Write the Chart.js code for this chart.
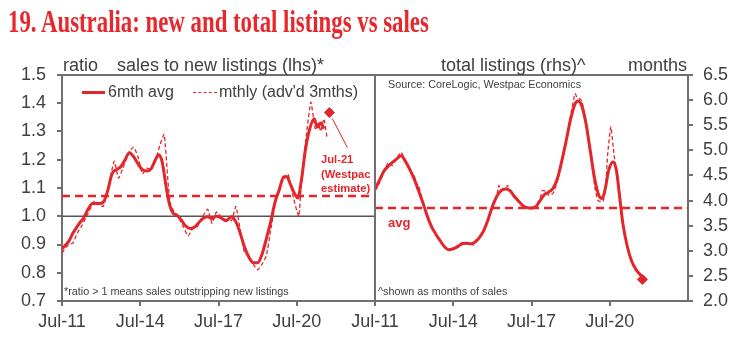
<!DOCTYPE html>
<html>
<head>
<meta charset="utf-8">
<script src="https://cdn.jsdelivr.net/npm/chart.js@4.4.1/dist/chart.umd.min.js"></script>
<style>
  body { margin: 0; background: #fff; }
  #wrap { position: relative; width: 743px; height: 352px; overflow: hidden; font-family: "Liberation Sans", Arial, sans-serif; color: #404040; }
  #chart { position: absolute; left: 0; top: 0; }
  .t { position: absolute; white-space: nowrap; line-height: 1; }
  #title { left: 8px; top: 6px; font-family: "Liberation Serif", serif; font-weight: bold; font-size: 31px; color: #e8262b; transform-origin: 0 0; }
  .hdr { font-size: 18px; top: 56px; }
  .note { font-size: 10.8px; }
  .red { color: #e3262b; font-weight: bold; font-size: 11.2px; }
  .leg { font-size: 16px; top: 84px; }
  .swatch { position: absolute; height: 0; }
</style>
</head>
<body>
<div id="wrap">
  <canvas id="chart" width="743" height="352"></canvas>
  <div class="t" id="title">19. Australia: new and total listings vs sales</div>
  <div class="t hdr" style="left:63px">ratio</div>
  <div class="t hdr" style="left:117px">sales to new listings (lhs)*</div>
  <div class="t hdr" style="left:441px">total listings (rhs)^</div>
  <div class="t hdr" style="left:628px">months</div>

  <div class="swatch" style="left:82px;top:91px;width:23px;border-top:3px solid #e3262b"></div>
  <div class="t leg" style="left:108px">6mth avg</div>
  <div class="swatch" style="left:193px;top:92px;width:24px;border-top:1.5px dashed #e3262b"></div>
  <div class="t leg" style="left:219px">mthly (adv'd 3mths)</div>

  <div class="t note" style="left:388px;top:79px">Source: CoreLogic, Westpac Economics</div>
  <div class="t note" style="left:64px;top:286px">*ratio &gt; 1 means sales outstripping new listings</div>
  <div class="t note" style="left:378px;top:286px">^shown as months of sales</div>
  <div class="t red" style="left:388px;top:216px;font-size:13px">avg</div>
  <div class="t red" style="left:321px;top:152px;line-height:14.5px">Jul-21<br>(Westpac<br>estimate)</div>
</div>
<script>
// x = months since Jul-11; right panel starts at month 144 on the shared axis
const xTickLabels = ["Jul-11", "Jul-14", "Jul-17", "Jul-20", "Jul-11", "Jul-14", "Jul-17", "Jul-20", ""];
const rhsOffset = 144;

// sales to new listings, 6mth avg
const lhsAvgMonths = [0, 3, 5, 8, 10, 12, 14, 17, 19, 21, 23, 25, 27, 29, 31, 33, 35, 37, 39, 41, 43, 44.5, 46, 48, 49.5, 51, 53, 55, 57, 59, 61, 63, 65, 67, 69, 71, 73, 75.5, 78, 80, 82, 84, 86, 88, 90, 92, 94, 96, 98, 100, 102, 103.5, 105, 107, 108.5, 110, 112, 114, 116, 117.5, 119, 120.5];
const lhsAvgRatio = [0.885, 0.91, 0.94, 0.975, 0.995, 1.025, 1.045, 1.045, 1.05, 1.09, 1.15, 1.165, 1.175, 1.2, 1.225, 1.21, 1.185, 1.165, 1.16, 1.168, 1.2, 1.218, 1.195, 1.1, 1.04, 1.012, 1.003, 0.985, 0.965, 0.957, 0.962, 0.978, 0.993, 0.998, 0.992, 1.0, 0.995, 0.984, 0.998, 0.98, 0.94, 0.89, 0.855, 0.835, 0.835, 0.865, 0.92, 0.98, 1.05, 1.095, 1.14, 1.14, 1.115, 1.08, 1.065, 1.12, 1.235, 1.31, 1.345, 1.315, 1.33, 1.31];

// sales to new listings, monthly (advanced 3 months)
const lhsMthMonths = [0, 3, 5, 7, 9, 12, 15, 17, 19, 21, 24, 26, 28, 31, 33, 35, 37, 39, 41, 43, 45, 47, 49, 50, 52, 54, 56, 58, 60, 62, 64, 67, 69, 71, 73, 75, 78, 80, 82, 84, 86, 88, 90, 92, 94, 96, 98, 100, 102, 104, 106, 108, 109, 110, 112, 114.5, 116.5, 118, 119, 120.5, 122];
const lhsMthRatio = [0.87, 0.9, 0.905, 0.94, 0.965, 1.01, 1.055, 1.04, 1.035, 1.09, 1.195, 1.135, 1.17, 1.23, 1.245, 1.21, 1.15, 1.17, 1.165, 1.2, 1.25, 1.29, 1.1, 1.04, 1.01, 0.99, 0.96, 0.93, 0.955, 0.96, 0.99, 1.025, 0.975, 1.015, 1.0, 0.99, 0.985, 1.035, 0.95, 0.87, 0.86, 0.83, 0.81, 0.83, 0.86, 0.95, 1.04, 1.1, 1.13, 1.15, 1.08, 1.02, 1.0, 1.1, 1.26, 1.404, 1.31, 1.33, 1.3, 1.345, 1.275];

// total listings, months of sales, 6mth avg
const rhsAvgMonths = [0, 2, 4, 6, 8, 10, 12, 14, 16, 18, 20, 22, 24, 26, 28, 30, 32, 34, 36, 38, 40, 42, 44, 46, 48, 50, 52, 54, 56, 58, 60, 62, 64, 66, 68, 70, 72, 74, 76, 78, 80, 82, 84, 86, 88, 90, 92, 93.5, 95, 97, 99, 101, 103, 104.5, 106, 107.5, 109.5, 111, 112.5, 114, 116, 118, 120, 122.5];
const rhsAvgValues = [4.22, 4.4, 4.58, 4.68, 4.76, 4.83, 4.89, 4.78, 4.62, 4.43, 4.2, 3.96, 3.7, 3.48, 3.33, 3.2, 3.08, 3.02, 3.04, 3.08, 3.14, 3.15, 3.14, 3.17, 3.26, 3.4, 3.62, 3.88, 4.08, 4.2, 4.23, 4.2, 4.09, 3.99, 3.9, 3.86, 3.85, 3.88, 4.0, 4.12, 4.17, 4.25, 4.45, 4.8, 5.2, 5.62, 5.92, 5.98, 5.9, 5.55, 5.0, 4.45, 4.1, 4.04, 4.25, 4.6, 4.77, 4.62, 4.1, 3.55, 3.1, 2.8, 2.63, 2.5];

// total listings, monthly
const rhsMthMonths = [0, 2, 4, 6, 8, 10, 12, 14, 16, 18, 19, 20, 22, 24, 26, 28, 30, 32, 34, 36, 38, 40, 42, 44, 45, 46, 48, 50, 52, 54, 56, 57, 58, 60, 61, 62, 64, 66, 68, 70, 72, 74, 76, 77, 79, 80, 82, 84, 86, 88, 90, 92, 93, 95, 97, 99, 101, 102.5, 104, 105, 106, 107, 108.5, 110, 111, 112.5, 114, 116, 118, 120];
const rhsMthValues = [4.2, 4.35, 4.55, 4.75, 4.7, 4.85, 4.96, 4.8, 4.6, 4.5, 4.35, 4.3, 3.98, 3.7, 3.48, 3.32, 3.2, 3.06, 3.02, 3.05, 3.1, 3.16, 3.14, 3.12, 3.1, 3.2, 3.26, 3.42, 3.6, 3.92, 4.1, 4.3, 4.22, 4.22, 4.3, 4.2, 4.06, 3.98, 3.9, 3.86, 3.83, 3.9, 4.05, 4.2, 4.18, 4.1, 4.15, 4.4, 4.75, 5.2, 5.7, 6.13, 6.05, 6.0, 5.6, 5.0, 4.3, 4.0, 3.98, 3.99, 4.2, 4.9, 5.47, 4.9, 4.6, 4.05, 3.55, 3.1, 2.8, 2.63];

// averages and Westpac estimates
const lhsAverage = 1.072;
const rhsAverage = 3.85;
const estimateMonth = 123;
const lhsEstimate = 1.367;
const rhsEstimate = 2.43;

const RED = "#e3262b";
const AXIS = "#707070";
const TXT = "#404040";

const pts = (xs, ys, off = 0) => xs.map((m, i) => ({ x: m + off, y: ys[i] }));

// fit title to its width in the original
const title = document.getElementById("title");
title.style.transform = "scaleX(" + (421 / title.offsetWidth) + ")";

const framePlugin = {
  id: "frame",
  afterDatasetsDraw(chart) {
    const { ctx, chartArea: a, scales } = chart;
    ctx.save();
    ctx.strokeStyle = AXIS;
    ctx.lineWidth = 2;
    ctx.beginPath();
    ctx.moveTo(a.left, a.top); ctx.lineTo(a.right, a.top);
    const mid = Math.round(scales.x.getPixelForValue(rhsOffset));
    ctx.moveTo(mid, a.top); ctx.lineTo(mid, a.bottom);
    ctx.stroke();
    // leader from the estimate marker to its label
    const px = scales.x.getPixelForValue(estimateMonth);
    const py = scales.y.getPixelForValue(lhsEstimate);
    ctx.strokeStyle = RED;
    ctx.lineWidth = 1;
    ctx.beginPath();
    ctx.moveTo(px + 3, py + 6); ctx.lineTo(px + 18, py + 35);
    ctx.stroke();
    ctx.restore();
  },
};

new Chart(document.getElementById("chart"), {
  type: "line",
  data: {
    datasets: [
      { data: pts([0, rhsOffset], [1, 1]), yAxisID: "y", borderColor: "#555", borderWidth: 1.3, pointRadius: 0, order: 9 },
      { data: pts([0, rhsOffset], [lhsAverage, lhsAverage]), yAxisID: "y", borderColor: RED, borderWidth: 2.5, borderDash: [8, 5], pointRadius: 0, order: 8 },
      { data: pts([0, rhsOffset], [rhsAverage, rhsAverage], rhsOffset), yAxisID: "y2", borderColor: RED, borderWidth: 2.5, borderDash: [8, 5], pointRadius: 0, order: 8 },
      { data: pts(lhsMthMonths, lhsMthRatio), yAxisID: "y", borderColor: RED, borderWidth: 1.3, borderDash: [4, 2.5], tension: 0.15, pointRadius: 0, order: 5 },
      { data: pts(rhsMthMonths, rhsMthValues, rhsOffset), yAxisID: "y2", borderColor: RED, borderWidth: 1.3, borderDash: [4, 2.5], tension: 0.15, pointRadius: 0, order: 5 },
      { data: pts(lhsAvgMonths, lhsAvgRatio), yAxisID: "y", borderColor: RED, borderWidth: 3, cubicInterpolationMode: "monotone", pointRadius: 0, order: 2 },
      { data: pts(rhsAvgMonths, rhsAvgValues, rhsOffset), yAxisID: "y2", borderColor: RED, borderWidth: 3, cubicInterpolationMode: "monotone", pointRadius: 0, order: 2 },
      { data: pts([estimateMonth], [lhsEstimate]), yAxisID: "y", showLine: false, pointStyle: "rectRot", pointRadius: 5, backgroundColor: RED, borderColor: RED, order: 1 },
      { data: pts([estimateMonth], [rhsEstimate], rhsOffset), yAxisID: "y2", showLine: false, pointStyle: "rectRot", pointRadius: 5, backgroundColor: RED, borderColor: RED, order: 1 },
    ],
  },
  options: {
    responsive: false,
    animation: false,
    events: [],
    layout: { padding: { top: 75, left: 0, right: 0, bottom: 0 } },
    plugins: { legend: { display: false }, tooltip: { enabled: false } },
    scales: {
      x: {
        type: "linear", min: 0, max: 288,
        afterFit: (s) => { s.height = 51; },
        ticks: { stepSize: 36, autoSkip: false, maxRotation: 0, padding: 5, color: TXT, font: { family: "Liberation Sans", size: 18 },
          callback: (v) => xTickLabels[v / 36] },
        grid: { drawOnChartArea: false, tickLength: 5, color: (c) => (c.index === 8 ? "rgba(0,0,0,0)" : AXIS), lineWidth: 2 },
        border: { color: AXIS, width: 2 },
      },
      y: {
        position: "left", min: 0.7, max: 1.5,
        afterFit: (s) => { s.width = 62; },
        ticks: { stepSize: 0.1, padding: 11, color: TXT, font: { family: "Liberation Sans", size: 18 }, callback: (v) => v.toFixed(1) },
        grid: { drawOnChartArea: false, tickLength: 5, color: AXIS, lineWidth: 2 },
        border: { color: AXIS, width: 2 },
      },
      y2: {
        position: "right", min: 2, max: 6.5,
        afterFit: (s) => { s.width = 55; },
        ticks: { stepSize: 0.5, padding: 10, color: TXT, font: { family: "Liberation Sans", size: 18 }, callback: (v) => v.toFixed(1) },
        grid: { drawOnChartArea: false, tickLength: 5, color: AXIS, lineWidth: 2 },
        border: { color: AXIS, width: 2 },
      },
    },
  },
  plugins: [framePlugin],
});
</script>
</body>
</html>
